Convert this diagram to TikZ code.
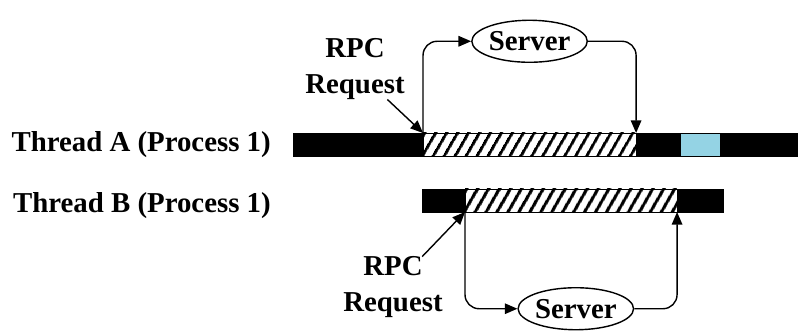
\documentclass[tikz,border=0pt]{standalone}
\usepackage{fontspec}
\setmainfont{Liberation Serif}
\usetikzlibrary{arrows.meta,shapes.geometric,positioning,patterns.meta}
\definecolor{thrblue}{RGB}{148,211,228}
\tikzstyle{arrow} = [line width=1pt,-{Triangle[length=9pt,width=7.5pt]},rounded corners=10pt]
\tikzstyle{pointer} = [line width=1pt,-{Triangle[length=9pt,width=7.5pt]}]
\tikzstyle{busy} = [rectangle, draw=black, fill=black, minimum height=0.575cm, inner sep=0pt, outer sep=0pt]
\tikzstyle{waiting} = [busy, fill=white, pattern={Lines[angle=60,distance=6.5pt,line width=2.2pt]}]
\tikzstyle{lbl} = [font=\fontsize{20.5}{22}\selectfont\bfseries, inner sep=0pt]
\tikzstyle{reqlbl} = [font=\fontsize{20.5}{25}\selectfont\bfseries, inner sep=0pt, align=center]
\tikzstyle{server} = [lbl, ellipse, draw=black, line width=1pt, fill=white, minimum width=2.55cm, minimum height=1.05cm]

\begin{document}
\begin{tikzpicture}[x=0.025cm,y=-0.025cm]
\useasboundingbox (0,0) rectangle (798,334);

% Thread A
\node[busy, minimum width=3.25cm, anchor=north west] (a1) at (293,133) {};
\node[waiting, minimum width=5.325cm, right=0pt of a1] (a2) {};
\node[busy, minimum width=1.1cm, right=0pt of a2] (a3) {};
\node[busy, minimum width=1.0cm, right=0pt of a3, fill=thrblue] (a4) {};
\node[busy, minimum width=1.95cm, right=0pt of a4] (a5) {};

% Thread B
\node[busy, minimum width=1.075cm, anchor=north west] (b1) at (422,189) {};
\node[waiting, minimum width=5.3cm, right=0pt of b1] (b2) {};
\node[busy, minimum width=1.15cm, right=0pt of b2] (b3) {};

% Servers
\node[server, above=1.75cm of a2] (srvA) {Server};
\node[server, below=1.875cm of b2, xshift=0.12cm] (srvB) {Server};
\draw[arrow] (a2.north west) |- (srvA.west);
\draw[arrow] (srvA.east) -| (a2.north east);
\draw[arrow] (b2.south west) |- (srvB.west);
\draw[arrow] (srvB.east) -| (b2.south east);

% Labels
\node[lbl, left=0.55cm of a1] (labA) {Thread A (Process 1)};
\node[lbl, anchor=east] (labB) at ([yshift=-1.525cm]labA.east) {Thread B (Process 1)};
\node[reqlbl] (reqA) at (355,69) {RPC\\Request};
\node[reqlbl] (reqB) at (393,287) {RPC\\Request};
\draw[pointer] (reqA) -- (a2.north west);
\draw[pointer] (reqB) -- (b2.south west);
\end{tikzpicture}
\end{document}
